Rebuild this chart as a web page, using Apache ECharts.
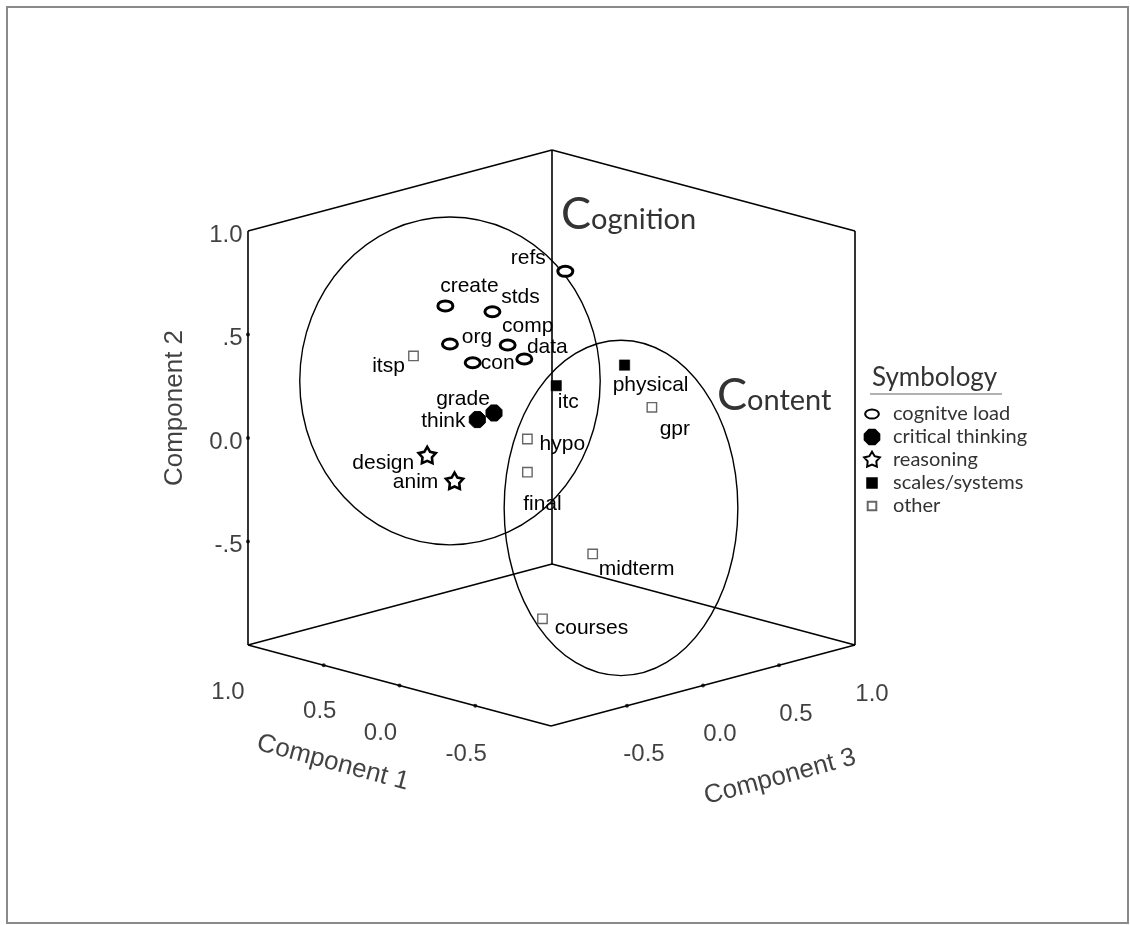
<!DOCTYPE html>
<html>
<head>
<meta charset="utf-8">
<script src="https://cdn.jsdelivr.net/npm/echarts@6/dist/echarts.min.js"></script>
<style>
html,body{margin:0;padding:0;background:#fff;}
#chart{width:1130px;height:925px;}
</style>
</head>
<body>
<div id="chart"></div>
<script>
// ---------------- DATA ----------------
const categories = ['cognitve load', 'critical thinking', 'reasoning', 'scales/systems', 'other'];
const pointNames = ['refs','create','stds','org','comp','data','con','itsp','grade','think','design','anim','itc','hypo','final','physical','gpr','midterm','courses'];
const pointGroup = [0,0,0,0,0,0,0,4,1,1,2,2,3,4,4,3,4,4,4];
const component1 = [0.30,0.55,0.40,0.55,0.45,0.40,0.50,0.60,0.55,0.60,0.70,0.65,0.35,0.40,0.45,0.20,0.10,0.30,0.20];
const component2 = [0.67,0.56,0.53,0.37,0.33,0.26,0.27,0.34,-0.02,-0.05,-0.20,-0.34,0.11,-0.13,-0.31,0.18,-0.02,-0.73,-0.94];
const component3 = [0.39,-0.15,0.01,-0.12,0.16,0.22,-0.02,-0.31,0.17,0.11,-0.12,0.01,0.38,0.24,0.29,0.68,0.76,0.57,0.14];
const axisRange = [-1, 1];
const comp1Ticks = [1.0, 0.5, 0.0, -0.5];
const comp1TickLabels = ['1.0', '0.5', '0.0', '-0.5'];
const comp2Ticks = [1.0, 0.5, 0.0, -0.5];
const comp2TickLabels = ['1.0', '.5', '0.0', '-.5'];
const comp3Ticks = [-0.5, 0.0, 0.5, 1.0];
const comp3TickLabels = ['-0.5', '0.0', '0.5', '1.0'];

// ---------------- LAYOUT / STYLE ----------------
const W = 1130, H = 925;
const VIEW = { ox: 551.5, oy: 438, k1: 151.5, k3: 152, k2: 207, kt: 40.5, unit: 151.75 };
function proj(c1, c2, c3) {
  return [(VIEW.k3 * c3 - VIEW.k1 * c1) / VIEW.unit,
          (VIEW.k2 * c2 + VIEW.kt * (c1 + c3)) / VIEW.unit];
}
// convert a screen-space offset into the rotated label frame
function rotOffset(dx, dy, deg) {
  const t = deg * Math.PI / 180, c = Math.cos(t), s = Math.sin(t);
  return [dx * c - dy * s, dx * s + dy * c];
}
// group ellipses (annotation regions, projection-plane units: cx, cy, rx, ry)
const groupRegions = [
  { name: 'Cognition', shape: [-0.669, 0.376, 0.99, 1.08] },
  { name: 'Content',   shape: [0.458, -0.461, 0.77, 1.105] }
];
const labelOffset = {
  refs:[-37,-13], create:[24,-20], stds:[28,-14], org:[27,-7], comp:[20,-19], data:[23,-12],
  con:[25,1], itsp:[-25,10], grade:[-31,-14], think:[-34,2], design:[-44,7], anim:[-39,1],
  itc:[12,17], hypo:[35,5], final:[15,32], physical:[26,20], gpr:[23,22], midterm:[44,15], courses:[49,9]
};
const comp1LabelOffset = [[-20,47], [-4,46], [-19,48], [-9,49]];
const comp3LabelOffset = [17, 49];
const SANS = "'Liberation Sans', Arial, Helvetica, sans-serif";
const HAND = "'Lato', 'Open Sans', sans-serif";

const symbols = [
  'path://M0,0 M24,24 M4.5,12 A7.5,5 0 1 1 19.5,12 A7.5,5 0 1 1 4.5,12 Z',
  'path://M0,0 M24,24 M8.8,4 L15.2,4 L20,8.8 L20,15.2 L15.2,20 L8.8,20 L4,15.2 L4,8.8 Z',
  'path://M0,0 M24,24 M12,3 L14.9,7.9 L20.6,9.2 L16.7,13.5 L17.3,19.3 L12,16.9 L6.7,19.3 L7.3,13.5 L3.4,9.2 L9.1,7.9 Z',
  'path://M0,0 M24,24 M6.8,6.8 h10.4 v10.4 h-10.4 Z',
  'path://M0,0 M24,24 M7.3,7.3 h9.4 v9.4 h-9.4 Z'
];
const symbolStyles = [
  { color: '#fff', borderColor: '#000', borderWidth: 3 },
  { color: '#000', borderColor: '#000', borderWidth: 1 },
  { color: '#fff', borderColor: '#000', borderWidth: 2.6 },
  { color: '#000', borderColor: '#000', borderWidth: 0.5 },
  { color: '#fff', borderColor: '#666', borderWidth: 1.4 }
];

// ---------------- BUILD ----------------
const boxEdges = [
  [[1,-1,-1],[1,1,-1]], [[1,-1,1],[1,1,1]], [[-1,-1,1],[-1,1,1]],
  [[1,1,-1],[1,1,1]], [[1,1,1],[-1,1,1]],
  [[1,-1,-1],[1,-1,1]], [[1,-1,1],[-1,-1,1]],
  [[1,-1,-1],[-1,-1,-1]], [[-1,-1,-1],[-1,-1,1]]
].map(e => e.map(p => p.map(v => axisRange[v > 0 ? 1 : 0])));

const lo = axisRange[0], hi = axisRange[1];
const tickMarks = [];
const tickLabelData = [];
comp1Ticks.forEach((v, i) => {
  const p = proj(v, lo, lo);
  if (v !== hi) tickMarks.push(p);
  tickLabelData.push({ value: p, label: { formatter: comp1TickLabels[i], position: 'inside', offset: comp1LabelOffset[i] } });
});
comp3Ticks.forEach((v, i) => {
  const p = proj(lo, lo, v);
  if (v !== hi) tickMarks.push(p);
  tickLabelData.push({ value: p, label: { formatter: comp3TickLabels[i], position: 'inside', offset: comp3LabelOffset } });
});
comp2Ticks.forEach((v, i) => {
  const p = proj(hi, v, lo);
  if (v !== hi) tickMarks.push(p);
  tickLabelData.push({ value: p, label: { formatter: comp2TickLabels[i], position: 'left', distance: 5, offset: [0, 4] } });
});

const axisTitles = [
  { value: proj(hi, 0.145, lo), label: { formatter: 'Component 2', rotate: 90, offset: rotOffset(-73, 0, 90) } },
  { value: proj(0.44, lo, lo), label: { formatter: 'Component 1', rotate: -15, offset: rotOffset(0, 95, -15) } },
  { value: proj(lo, lo, 0.507), label: { formatter: 'Component 3', rotate: 15, offset: rotOffset(0, 112, 15) } }
];

const pointSeries = categories.map((cat, g) => ({
  type: 'scatter',
  name: cat,
  symbol: symbols[g],
  symbolSize: 24,
  itemStyle: Object.assign({ opacity: 1 }, symbolStyles[g]),
  z: 5,
  label: { show: true, position: 'inside', color: '#000', fontFamily: SANS, fontSize: 21 },
  emphasis: { disabled: true },
  data: pointNames.map((n, i) => ({ n, i })).filter(o => pointGroup[o.i] === g).map(o => ({
    name: o.n,
    value: proj(component1[o.i], component2[o.i], component3[o.i]),
    label: { formatter: o.n, offset: labelOffset[o.n] }
  }))
}));

const option = {
  animation: false,
  backgroundColor: '#fff',
  grid: { left: 0, right: 0, top: 0, bottom: 0 },
  xAxis: { type: 'value', show: false, min: -VIEW.ox / VIEW.unit, max: (W - VIEW.ox) / VIEW.unit },
  yAxis: { type: 'value', show: false, min: -(H - VIEW.oy) / VIEW.unit, max: VIEW.oy / VIEW.unit },
  title: {
    text: 'Symbology', left: 867, top: 360,
    textStyle: { fontFamily: HAND, fontWeight: 'normal', fontSize: 26, color: '#333' }
  },
  legend: {
    orient: 'vertical', left: 860, top: 402, padding: 0, itemWidth: 24, itemHeight: 22, itemGap: -1,
    data: categories.map((c, g) => ({ name: c, icon: symbols[g] })),
    textStyle: { fontFamily: HAND, fontSize: 20, lineHeight: 20, color: '#333', padding: [0, 0, 0, 4] },
    selectedMode: false
  },
  graphic: [
    { type: 'rect', shape: { x: 7, y: 7, width: 1121, height: 916 }, style: { fill: 'none', stroke: '#8a8a8a', lineWidth: 2 } },
    { type: 'line', shape: { x1: 870, y1: 394, x2: 1002, y2: 394 }, style: { stroke: '#999', lineWidth: 1.5 } },
    { type: 'text', x: 561, y: 191, style: { text: '{a|C}{b|ognition}', fill: '#333',
        rich: { a: { fontSize: 45, fontFamily: HAND, verticalAlign: 'bottom', lineHeight: 46 },
                b: { fontSize: 29, fontFamily: HAND, verticalAlign: 'bottom', lineHeight: 46, padding: [0, 0, 3, 0] } } } },
    { type: 'text', x: 717, y: 372, style: { text: '{a|C}{b|ontent}', fill: '#333',
        rich: { a: { fontSize: 45, fontFamily: HAND, verticalAlign: 'bottom', lineHeight: 46 },
                b: { fontSize: 29, fontFamily: HAND, verticalAlign: 'bottom', lineHeight: 46, padding: [0, 0, 3, 0] } } } }
  ],
  series: [
    {
      type: 'custom', name: 'regions', silent: true, z: 2,
      data: groupRegions.map(r => r.shape),
      encode: { x: 0, y: 1 },
      renderItem: function (params, api) {
        const c = api.coord([api.value(0), api.value(1)]);
        const s = api.size([api.value(2), api.value(3)]);
        return { type: 'ellipse', shape: { cx: c[0], cy: c[1], rx: s[0], ry: s[1] },
                 style: { fill: 'none', stroke: '#000', lineWidth: 1.4 } };
      }
    },
    {
      type: 'lines', coordinateSystem: 'cartesian2d', silent: true, z: 3,
      lineStyle: { color: '#000', width: 1.6, opacity: 1 },
      data: boxEdges.map(e => ({ coords: [proj(e[0][0], e[0][1], e[0][2]), proj(e[1][0], e[1][1], e[1][2])] }))
    },
    {
      type: 'scatter', silent: true, z: 3, symbol: 'circle', symbolSize: 4,
      itemStyle: { color: '#000' }, data: tickMarks
    },
    {
      type: 'scatter', silent: true, z: 3, symbolSize: 1, itemStyle: { color: 'rgba(0,0,0,0)' },
      label: { show: true, color: '#111', fontFamily: SANS, fontSize: 24 },
      data: tickLabelData
    },
    {
      type: 'scatter', silent: true, z: 3, symbolSize: 1, itemStyle: { color: 'rgba(0,0,0,0)' },
      label: { show: true, position: 'inside', color: '#111', fontFamily: SANS, fontSize: 26 },
      data: axisTitles
    }
  ].concat(pointSeries)
};

const chart = echarts.init(document.getElementById('chart'), null, { renderer: 'canvas' });
chart.setOption(option);
</script>
</body>
</html>
